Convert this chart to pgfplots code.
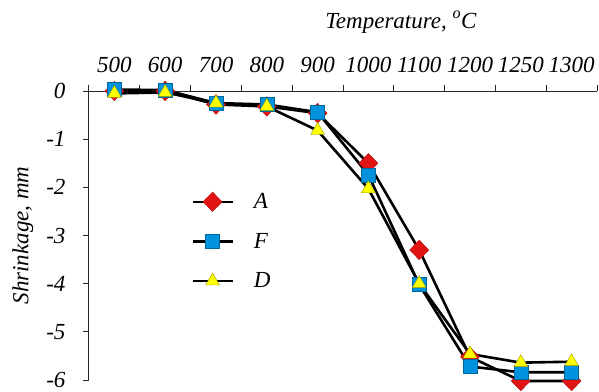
\documentclass[border=0pt]{standalone}
\usepackage{pgfplots}
\pgfplotsset{compat=1.18}
\usepackage{fontspec}
\setmainfont{Liberation Serif}
\newfontface\lfi{Liberation Serif Italic}
\definecolor{cA}{RGB}{225,20,20}
\definecolor{cF}{RGB}{0,146,221}
\definecolor{cD}{RGB}{255,255,0}
\newcommand{\lf}{\fontsize{23}{25}\selectfont\lfi}
\begin{document}
\begin{tikzpicture}
\begin{axis}[
  scale only axis, width=508pt, height=289pt,
  at={(0pt,0pt)}, anchor=south west,
  xmin=-0.5, xmax=9.5, ymin=-6, ymax=0,
  axis x line*=top, axis y line*=left,
  axis line style={line width=1pt, black!85},
  tick align=outside,
  xtick={0,...,9},
  xticklabels={500,600,700,800,900,1000,1100,1200,1250,1300},
  minor xtick={-0.5,0.5,...,9.5},
  major x tick style={draw=none},
  minor tick length=6pt, major tick length=6pt,
  tick style={line width=1pt, black!85},
  ytick={-6,-5,-4,-3,-2,-1,0},
  yticklabels={-6,-5,-4,-3,-2,-1,0},
  ticklabel style={font=\lf},
  xticklabel style={yshift=9pt},
  yticklabel style={anchor=east, xshift=-14pt},
  ylabel={Shrinkage, mm},
  ylabel style={font=\lf, at={(axis description cs:-0.130,0.5)}, anchor=center},
  legend style={draw=none, fill=none, at={(axis description cs:0.195,0.66)}, anchor=north west, font=\lf, row sep=19pt, column sep=18pt},
  legend cell align=left,
  legend image code/.code={\draw[mark repeat=2,mark phase=2,#1,line width=2.6pt,black] plot coordinates {(0pt,0pt) (20pt,0pt) (40pt,0pt)};},
  every axis plot/.append style={line width=2.6pt, black},
  clip=false,
]
\addplot[mark=diamond*, mark size=9.8pt, mark options={solid, line width=0.4pt, fill=cA, draw=cA!80!black, xscale=1.3}]
  coordinates {(0,0) (1,0) (2,-0.28) (3,-0.32) (4,-0.46) (5,-1.5) (6,-3.3) (7,-5.52) (8,-6.02) (9,-6.02)};
\addlegendentry{A}
\addplot[mark=square*, mark size=7pt, mark options={solid, line width=0.4pt, fill=cF, draw=cF!70!black}]
  coordinates {(0,0.03) (1,0.02) (2,-0.25) (3,-0.28) (4,-0.44) (5,-1.74) (6,-4.02) (7,-5.72) (8,-5.84) (9,-5.84)};
\addlegendentry{F}
\addplot[mark=triangle*, mark size=8pt, mark options={solid, line width=0.4pt, fill=cD, draw=cD!60!black}]
  coordinates {(0,-0.05) (1,-0.03) (2,-0.25) (3,-0.32) (4,-0.82) (5,-2.03) (6,-4.0) (7,-5.46) (8,-5.64) (9,-5.62)};
\addlegendentry{D}
\node[font=\lf, anchor=base] at (rel axis cs:0.614,1) [yshift=63pt] {Temperature, \textsuperscript{o}C};
\end{axis}
\pgfresetboundingbox
\useasboundingbox (-89pt,-11pt) rectangle (510pt,380pt);
\end{tikzpicture}
\end{document}
